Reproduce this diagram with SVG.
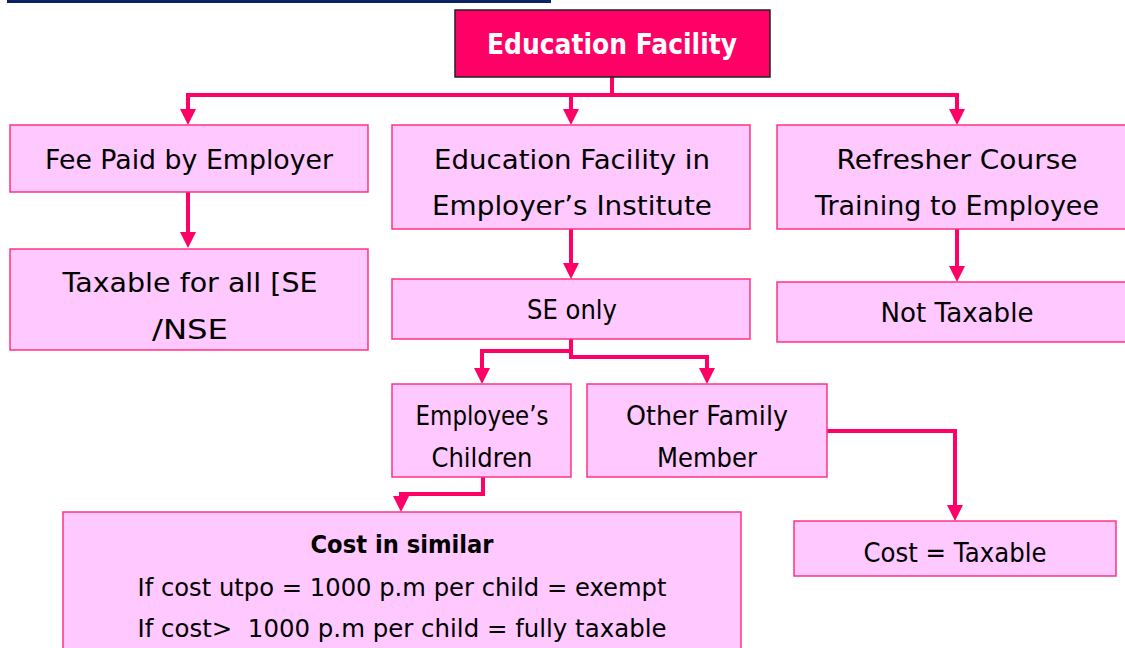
<svg xmlns="http://www.w3.org/2000/svg" width="1125" height="648" viewBox="0 0 1125 648">
<style>
.box{fill:#ffc8ff;stroke:#ff3380;stroke-width:1.5}
.t{font-family:"DejaVu Sans","Liberation Sans",sans-serif;font-size:27px;fill:#000;text-anchor:middle}
.s{font-size:25px}
.b{font-weight:bold}
.c{fill:none;stroke:#ff0066;stroke-width:4;stroke-linejoin:miter}
</style>
<defs>
<marker id="ah" markerUnits="userSpaceOnUse" viewBox="0 0 16 16" refX="4" refY="8" markerWidth="16" markerHeight="16" orient="auto">
<path d="M0,0 L16,8 L0,16 z" fill="#ff0066"/>
</marker>
</defs>
<rect x="7" y="0" width="544" height="3" fill="#0a2463"/>
<g id="connectors">
<path class="c" d="M612,77 V95 H188 V113" marker-end="url(#ah)"/>
<path class="c" d="M612,95 H571 V113" marker-end="url(#ah)"/>
<path class="c" d="M612,95 H957 V113" marker-end="url(#ah)"/>
<path class="c" d="M188,192 V236" marker-end="url(#ah)"/>
<path class="c" d="M571,229 V267" marker-end="url(#ah)"/>
<path class="c" d="M571,339 V351 H482 V372" marker-end="url(#ah)"/>
<path class="c" d="M571,351 V357 H707 V372" marker-end="url(#ah)"/>
<path class="c" d="M957,229 V270" marker-end="url(#ah)"/>
<path class="c" d="M483,477 V494 H401 V500" marker-end="url(#ah)"/>
<path class="c" d="M827,431 H955 V509" marker-end="url(#ah)"/>
</g>
<g id="root">
<rect x="455" y="10" width="315" height="67" fill="#ff0066" stroke="#222" stroke-width="1.5"/>
<text class="t b" x="612" y="54" style="font-size:29px;fill:#fff" textLength="250" lengthAdjust="spacingAndGlyphs">Education Facility</text>
</g>
<g id="fee">
<rect class="box" x="10" y="125" width="358" height="67"/>
<text class="t" x="189" y="169" textLength="288" lengthAdjust="spacingAndGlyphs">Fee Paid by Employer</text>
</g>
<g id="taxable-all">
<rect class="box" x="10" y="249" width="358" height="101"/>
<text class="t" x="190" y="292" textLength="255" lengthAdjust="spacingAndGlyphs">Taxable for all [SE</text>
<text class="t" x="190" y="339" textLength="76" lengthAdjust="spacingAndGlyphs">/NSE</text>
</g>
<g id="institute">
<rect class="box" x="392" y="125" width="358" height="104"/>
<text class="t" x="572" y="169" textLength="276" lengthAdjust="spacingAndGlyphs">Education Facility in</text>
<text class="t" x="572" y="215" textLength="280" lengthAdjust="spacingAndGlyphs">Employer’s Institute</text>
</g>
<g id="se-only">
<rect class="box" x="392" y="279" width="358" height="60"/>
<text class="t" x="572" y="319" textLength="90" lengthAdjust="spacingAndGlyphs">SE only</text>
</g>
<g id="refresher">
<rect class="box" x="777" y="125" width="352" height="104"/>
<text class="t" x="957" y="169" textLength="241" lengthAdjust="spacingAndGlyphs">Refresher Course</text>
<text class="t" x="957" y="215" textLength="284" lengthAdjust="spacingAndGlyphs">Training to Employee</text>
</g>
<g id="not-taxable">
<rect class="box" x="777" y="282" width="352" height="60"/>
<text class="t" x="957" y="322" textLength="153" lengthAdjust="spacingAndGlyphs">Not Taxable</text>
</g>
<g id="children">
<rect class="box" x="392" y="384" width="179" height="93"/>
<text class="t" x="482" y="425" textLength="133" lengthAdjust="spacingAndGlyphs">Employee’s</text>
<text class="t" x="482" y="467" textLength="101" lengthAdjust="spacingAndGlyphs">Children</text>
</g>
<g id="other-family">
<rect class="box" x="587" y="384" width="240" height="93"/>
<text class="t" x="707" y="425" textLength="162" lengthAdjust="spacingAndGlyphs">Other Family</text>
<text class="t" x="707" y="467" textLength="100" lengthAdjust="spacingAndGlyphs">Member</text>
</g>
<g id="cost-taxable">
<rect class="box" x="794" y="521" width="322" height="55"/>
<text class="t" x="955" y="562" textLength="183" lengthAdjust="spacingAndGlyphs">Cost = Taxable</text>
</g>
<g id="cost-similar">
<rect class="box" x="63" y="512" width="678" height="150"/>
<text class="t s b" x="402" y="553" textLength="183" lengthAdjust="spacingAndGlyphs">Cost in similar</text>
<text class="t s" x="402" y="596" textLength="529" lengthAdjust="spacingAndGlyphs">If cost utpo = 1000 p.m per child = exempt</text>
<text class="t s" x="402" y="637" textLength="529" lengthAdjust="spacingAndGlyphs">If cost&gt;&#160; 1000 p.m per child = fully taxable</text>
</g>
</svg>
